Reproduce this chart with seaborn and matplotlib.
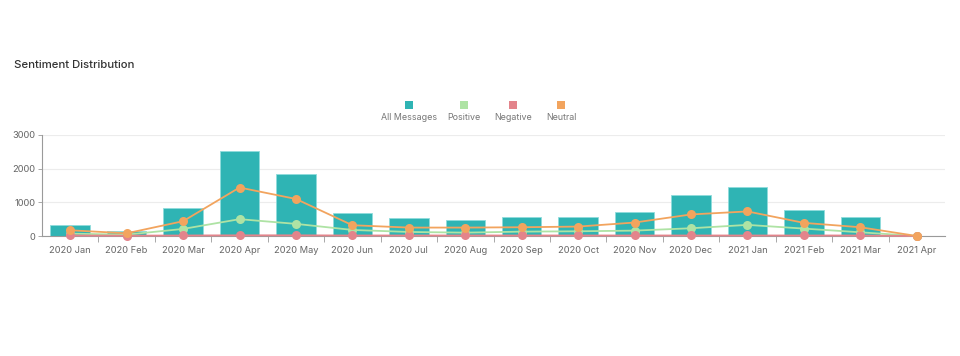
import matplotlib
matplotlib.use("Agg")
import matplotlib.pyplot as plt
import seaborn as sns
import pandas as pd
import numpy as np
from matplotlib.patches import Rectangle

months = ["2020 Jan", "2020 Feb", "2020 Mar", "2020 Apr", "2020 May", "2020 Jun",
          "2020 Jul", "2020 Aug", "2020 Sep", "2020 Oct", "2020 Nov", "2020 Dec",
          "2021 Jan", "2021 Feb", "2021 Mar", "2021 Apr"]
all_messages = [330, 160, 840, 2530, 1850, 680, 540, 470, 570, 570, 720, 1230, 1460, 770, 550, 0]
positive = [70, 40, 210, 500, 360, 180, 120, 100, 130, 140, 160, 230, 330, 220, 110, 0]
negative = [15, 10, 15, 20, 20, 15, 15, 15, 15, 15, 15, 15, 15, 15, 15, 0]
neutral = [170, 80, 440, 1440, 1100, 320, 250, 250, 260, 280, 400, 640, 730, 390, 260, 0]
y_ticks = [0, 1000, 2000, 3000]

c_all = "#2fb4b4"
c_pos = "#aee3a4"
c_neg = "#e3848b"
c_neu = "#f2a45e"

sns.set_theme(style="white")
plt.rcParams["font.family"] = ["Inter", "DejaVu Sans"]

fig = plt.figure(figsize=(9.6, 3.56), dpi=100)
ax = fig.add_axes([42 / 960, 1 - 236 / 356, 903 / 960, 101 / 356])

df = pd.DataFrame({"month": months, "all": all_messages, "pos": positive,
                   "neg": negative, "neu": neutral, "idx": np.arange(len(months))})

sns.barplot(data=df, x="month", y="all", order=months, color=c_all, width=0.7,
            saturation=1, edgecolor="#8fdcdc", linewidth=0.6, ax=ax, zorder=2)

for col, c in [("pos", c_pos), ("neg", c_neg), ("neu", c_neu)]:
    sns.lineplot(data=df, x="idx", y=col, color=c, marker="o", markersize=6.5,
                 markeredgewidth=0, linewidth=1.3, ax=ax, zorder=4, clip_on=False)

ax.set_xlim(-0.5, len(months) - 0.5)
ax.set_ylim(0, 3000)
ax.set_yticks(y_ticks)
ax.set_yticklabels([str(v) for v in y_ticks])
ax.set_xticks(range(len(months)))
ax.set_xticklabels(months)
ax.set_xlabel("")
ax.set_ylabel("")
ax.grid(axis="y", color="#ececec", linewidth=0.8, zorder=0)
ax.set_axisbelow(True)

for s in ["top", "right"]:
    ax.spines[s].set_visible(False)
ax.spines["left"].set_color("#9a9a9a")
ax.spines["left"].set_linewidth(0.8)
ax.spines["bottom"].set_color("#9a9a9a")
ax.spines["bottom"].set_linewidth(0.8)

ax.tick_params(axis="y", length=3, width=0.6, color="#9a9a9a", labelsize=6.7,
               labelcolor="#666666", pad=2, left=True)
ax.tick_params(axis="x", which="major", length=0, labelsize=6.7,
               labelcolor="#666666", pad=7)
ax.set_xticks(np.arange(0.5, len(months) - 1, 1), minor=True)
ax.tick_params(axis="x", which="minor", length=4, width=0.6, color="#9a9a9a", bottom=True)

fig.text(14 / 960, 1 - 65 / 356, "Sentiment Distribution", fontsize=8.2,
         fontweight="medium", color="#333333", va="center", ha="left")

legend_items = [("All Messages", c_all, 409), ("Positive", c_pos, 464),
                ("Negative", c_neg, 513), ("Neutral", c_neu, 561)]
for label, c, xc in legend_items:
    sq = 8
    fig.patches.append(Rectangle(((xc - sq / 2) / 960, 1 - 109 / 356), sq / 960, sq / 356,
                                 transform=fig.transFigure, facecolor=c, edgecolor="none"))
    fig.text(xc / 960, 1 - 118 / 356, label, fontsize=6.4, color="#777777",
             ha="center", va="center")

fig.savefig("out.png", dpi=100)
